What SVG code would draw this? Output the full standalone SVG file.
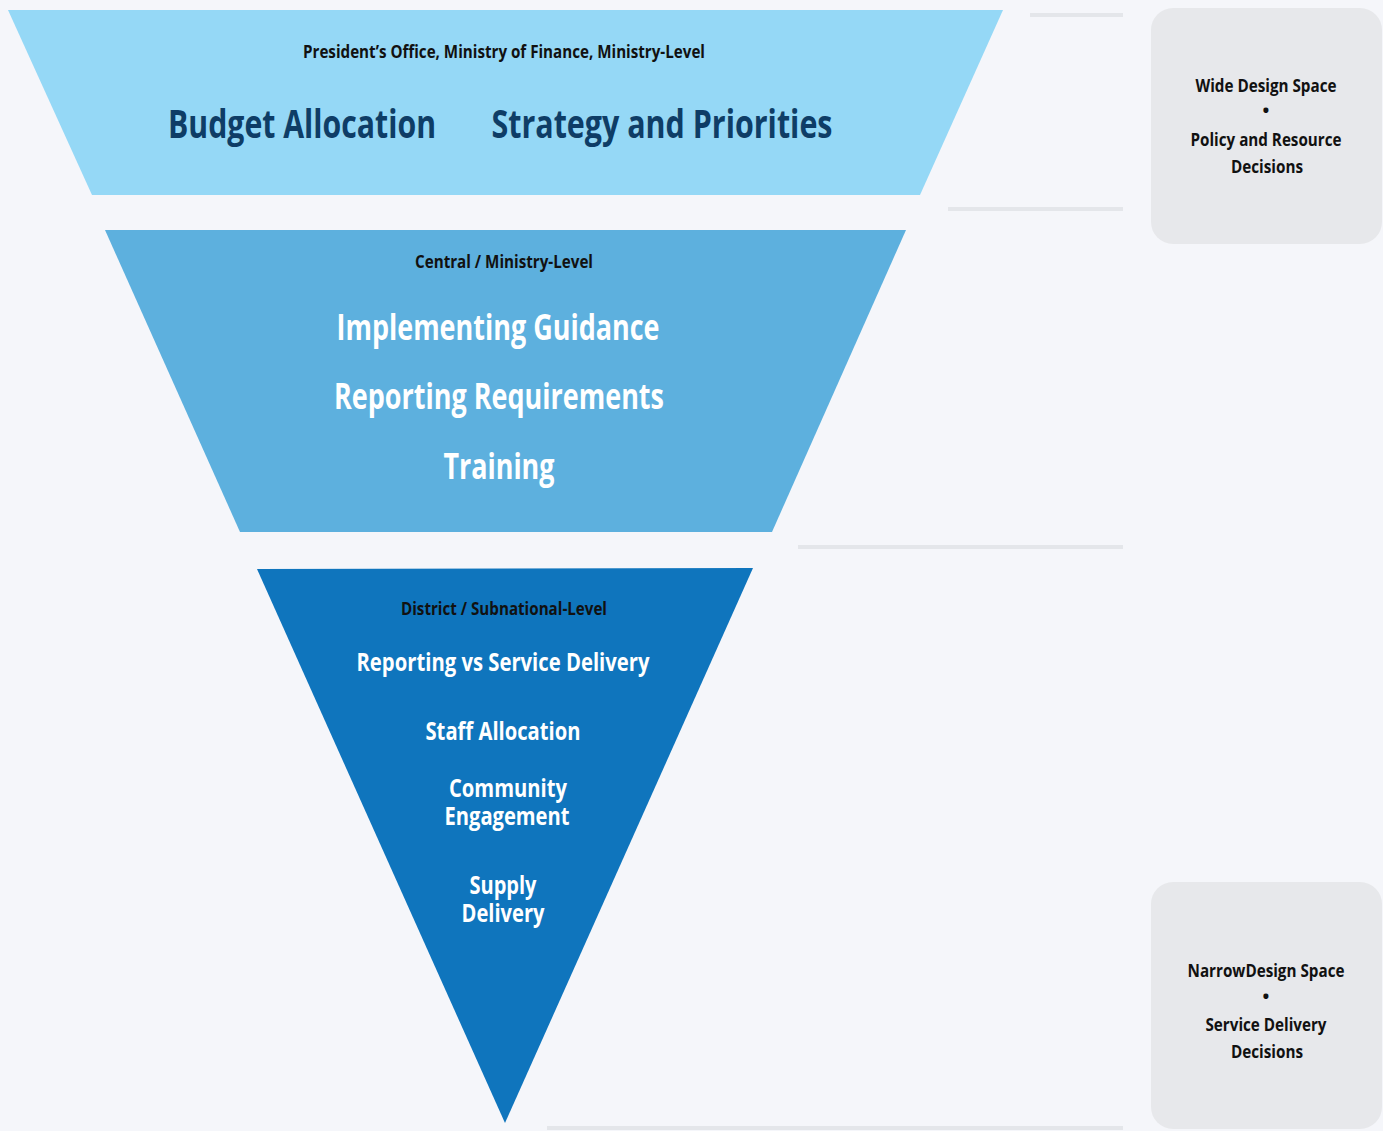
<svg xmlns="http://www.w3.org/2000/svg" width="1383" height="1131" viewBox="0 0 1383 1131">
<style>
text{font-family:"Open Sans","Noto Sans","Liberation Sans",sans-serif;font-weight:700;text-anchor:middle}
.sub{font-size:17px;fill:#111}
.top{font-size:40px;fill:#0e3d66}
.mid{font-size:35px;fill:#fff}
.low{font-size:25px;fill:#fff}
.box{font-size:18px;fill:#111}
.sep{stroke:#e4e6ea;stroke-width:4;fill:none}
.panel{fill:#e7e8eb}
</style>
<rect width="1383" height="1131" fill="#f5f6fa"/>
<g id="connectors">
<line class="sep" x1="1030" y1="15" x2="1123" y2="15"/>
<line class="sep" x1="948" y1="209" x2="1123" y2="209"/>
<line class="sep" x1="798" y1="547" x2="1123" y2="547"/>
<line class="sep" x1="547" y1="1128" x2="1123" y2="1128"/>
</g>
<g id="level-top">
<polygon points="8,10 1003,10 920,195 92,195" fill="#95d8f6"/>
<text class="sub" x="504" y="58" textLength="402" lengthAdjust="spacingAndGlyphs">President’s Office, Ministry of Finance, Ministry-Level</text>
<text class="top" x="302" y="138" textLength="268" lengthAdjust="spacingAndGlyphs">Budget Allocation</text>
<text class="top" x="662" y="138" textLength="341" lengthAdjust="spacingAndGlyphs">Strategy and Priorities</text>
</g>
<g id="level-central">
<polygon points="105,230 906,230 772,532 240,532" fill="#5db0de"/>
<text class="sub" x="504" y="268" textLength="178" lengthAdjust="spacingAndGlyphs">Central / Ministry-Level</text>
<text class="mid" x="498" y="340" textLength="323" lengthAdjust="spacingAndGlyphs">Implementing Guidance</text>
<text class="mid" x="499" y="409" textLength="330" lengthAdjust="spacingAndGlyphs">Reporting Requirements</text>
<text class="mid" x="499" y="479" textLength="111" lengthAdjust="spacingAndGlyphs">Training</text>
</g>
<g id="level-district">
<polygon points="257,569 753,568 505,1123" fill="#0f75bd"/>
<text class="sub" x="504" y="615" textLength="206" lengthAdjust="spacingAndGlyphs">District / Subnational-Level</text>
<text class="low" x="503" y="671" textLength="293" lengthAdjust="spacingAndGlyphs">Reporting vs Service Delivery</text>
<text class="low" x="503" y="740" textLength="155" lengthAdjust="spacingAndGlyphs">Staff Allocation</text>
<text class="low"><tspan x="508" y="797" textLength="118" lengthAdjust="spacingAndGlyphs">Community</tspan><tspan x="507" y="825" textLength="125" lengthAdjust="spacingAndGlyphs">Engagement</tspan></text>
<text class="low"><tspan x="503" y="894" textLength="67" lengthAdjust="spacingAndGlyphs">Supply</tspan><tspan x="503" y="922" textLength="83" lengthAdjust="spacingAndGlyphs">Delivery</tspan></text>
</g>
<g id="box-wide">
<rect class="panel" x="1151" y="8" width="231" height="236" rx="22"/>
<text class="box" x="1266" y="92" textLength="141" lengthAdjust="spacingAndGlyphs">Wide Design Space</text>
<text class="box" x="1266" y="117">•</text>
<text class="box" x="1266" y="146" textLength="151" lengthAdjust="spacingAndGlyphs">Policy and Resource</text>
<text class="box" x="1267" y="173" textLength="72" lengthAdjust="spacingAndGlyphs">Decisions</text>
</g>
<g id="box-narrow">
<rect class="panel" x="1151" y="882" width="231" height="247" rx="22"/>
<text class="box" x="1266" y="977" textLength="157" lengthAdjust="spacingAndGlyphs">NarrowDesign Space</text>
<text class="box" x="1266" y="1003">•</text>
<text class="box" x="1266" y="1031" textLength="121" lengthAdjust="spacingAndGlyphs">Service Delivery</text>
<text class="box" x="1267" y="1058" textLength="72" lengthAdjust="spacingAndGlyphs">Decisions</text>
</g>
</svg>
